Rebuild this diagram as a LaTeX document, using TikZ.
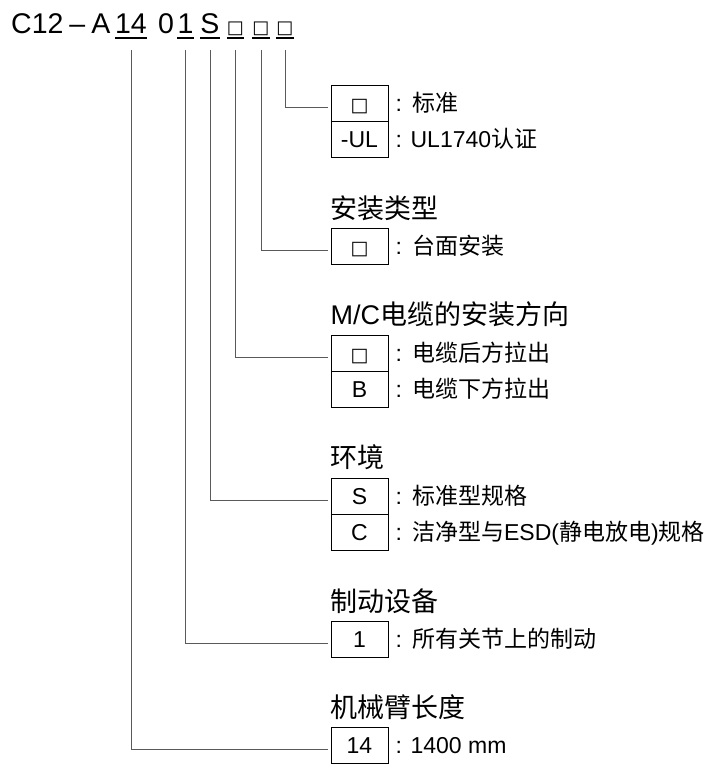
\documentclass[tikz,border=0pt]{standalone}
\usepackage{fontspec}
\setmainfont{Liberation Sans}
\newfontfamily\cjk{Noto Sans CJK SC}
\newfontfamily\symfont{DejaVu Sans}
\usepackage{tikz}
\usepackage{xcolor}
\usetikzlibrary{positioning}
\definecolor{wire}{HTML}{5A5A5A}
\tikzset{
  % one part of the model code in the top line
  codepart/.style={inner sep=0pt, font=\fontsize{28.5}{34}\selectfont},
  % a cell holding an option code
  optcell/.style={
    draw=black, line width=1pt, minimum width=57pt, minimum height=36pt,
    inner sep=0pt, text height=16.5pt, text depth=0pt,
    font=\fontsize{23}{27}\selectfont},
  optlbl/.style={inner sep=0pt, font=\fontsize{23}{27}\selectfont},
  opthead/.style={inner sep=0pt, font=\fontsize{27}{32}\selectfont},
  % lines
  uline/.style={draw=black, line width=1.6pt},
  conn/.style={draw=wire, line width=0.9pt, shorten >=2.5pt},
}
\newcommand{\zh}[1]{{\cjk #1}}
\newcommand{\sqr}[1]{{\symfont\fontsize{#1}{#1}\selectfont □}}
\newcommand{\zsep}{:\hspace{10pt}}
\newcommand{\optbox}[4]{%
  \node[optcell] (#1) at (359.5,#2) {#3};
  \node[optlbl, anchor=base west] (#1l) at ([xshift=7pt]#1.base east) {#4};}
\newcommand{\opthead}[3]{%
  \node[opthead, anchor=base west] (#1) at ([yshift=10pt]#2.north west) {#3};}

\begin{document}
\begin{tikzpicture}[x=1pt, y=-1pt]
  \useasboundingbox (0,0) rectangle (723,764);

  % model code
  \node[codepart, anchor=base west] (pfx) at (11,33) {C12\hspace{6pt}--\hspace{6pt}A};
  \node[codepart, anchor=base] (n14) at (131,33) {14};
  \node[codepart, anchor=base] (n0) at (166,33) {0};
  \node[codepart, anchor=base] (n1) at (185.5,33) {1};
  \node[codepart, anchor=base] (nS) at (210,33) {S};
  \node[codepart, anchor=base, minimum width=15pt] (q1) at (235.5,33) {\sqr{18}};
  \node[codepart, anchor=base, minimum width=15pt] (q2) at (261,33) {\sqr{18}};
  \node[codepart, anchor=base, minimum width=15pt] (q3) at (285,33) {\sqr{18}};
  \foreach \n in {n14,n1,nS,q1,q2,q3}
    \draw[uline] ([yshift=-5pt]\n.base west) -- ([yshift=-5pt]\n.base east);

  % options
  \optbox{rA1}{103.5}{\sqr{19}}{\zsep\zh{标准}}
  \optbox{rA2}{139.5}{-UL}{: UL1740\zh{认证}}

  \optbox{rB1}{246.5}{\sqr{19}}{\zsep\zh{台面安装}}
  \opthead{hB}{rB1}{\zh{安装类型}}

  \optbox{rC1}{353}{\sqr{19}}{\zsep\zh{电缆后方拉出}}
  \optbox{rC2}{389}{B}{\zsep\zh{电缆下方拉出}}
  \opthead{hC}{rC1}{M/C\zh{电缆的安装方向}}

  \optbox{rD1}{496}{S}{\zsep\zh{标准型规格}}
  \optbox{rD2}{532}{C}{\zsep\zh{洁净型与}ESD(\zh{静电放电})\zh{规格}}
  \opthead{hD}{rD1}{\zh{环境}}

  \optbox{rE1}{639.5}{1}{\zsep\zh{所有关节上的制动}}
  \opthead{hE}{rE1}{\zh{制动设备}}

  \optbox{rF1}{745.5}{14}{: 1400 mm}
  \opthead{hF}{rF1}{\zh{机械臂长度}}

  % leaders
  \foreach \a/\b in {q3/rA1, q2/rB1, q1/rC1, nS/rD1, n1/rE1, n14/rF1}
    \draw[conn] ([yshift=-17pt]\a.base) |- ([yshift=-4pt]\b.west);

\end{tikzpicture}
\end{document}
